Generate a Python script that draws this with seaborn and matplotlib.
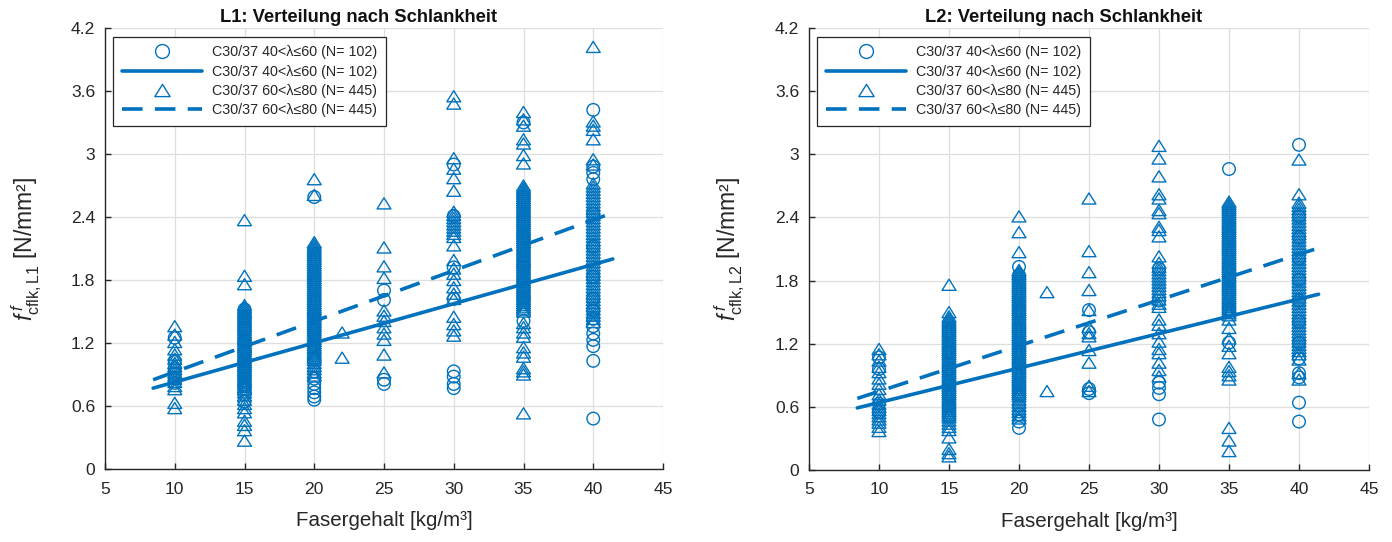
import numpy as np
import pandas as pd
import matplotlib
matplotlib.use("Agg")
import matplotlib.pyplot as plt
import seaborn as sns
from matplotlib.lines import Line2D
from matplotlib.path import Path
from matplotlib import font_manager

# ---------------- data ----------------
FASER = [10, 15, 20, 22, 25, 30, 35, 40]

# L1: circles = C30/37 40<lambda<=60, triangles = C30/37 60<lambda<=80
L1_KREIS = [
    [1.25, 1.02, 0.96, 0.91, 0.86, 0.82],
    [1.52, 1.44, 1.33, 1.21, 1.12, 1.03, 0.94, 0.87, 0.79, 0.71, 0.64],
    [2.59, 1.47, 1.32, 1.18, 1.04, 0.93, 0.86, 0.81, 0.77, 0.73, 0.69, 0.66],
    [],
    [1.70, 1.61, 0.85, 0.81],
    [2.90, 2.41, 1.92, 1.62, 0.93, 0.88, 0.81, 0.77],
    [3.30, 2.22, 1.92, 1.63, 1.41],
    [3.42, 2.88, 2.82, 2.76, 2.43, 2.12, 1.83, 1.62, 1.51, 1.43, 1.36, 1.29, 1.23, 1.17, 1.03, 0.48],
]
L1_DREIECK = [
    [1.36, 1.28, 1.21, 1.14, 1.09, 1.05, 1.01, 0.98, 0.95, 0.92, 0.89, 0.86, 0.83, 0.79, 0.76, 0.63, 0.58],
    [2.37, 1.84, 1.76, 1.56, 1.54, 1.52, 1.50, 1.48, 1.46, 1.44, 1.42, 1.40, 1.38, 1.36, 1.34, 1.32, 1.30,
     1.28, 1.26, 1.24, 1.22, 1.20, 1.18, 1.16, 1.14, 1.12, 1.10, 1.08, 1.06, 1.04, 1.02, 1.00, 0.98, 0.96,
     0.94, 0.92, 0.90, 0.88, 0.86, 0.84, 0.82, 0.80, 0.78, 0.76, 0.73, 0.70, 0.66, 0.62, 0.58, 0.54, 0.46,
     0.42, 0.37, 0.27],
    [2.76, 2.61, 2.16, 2.14, 2.12, 2.10, 2.08, 2.06, 2.04, 2.02, 2.00, 1.98, 1.96, 1.94, 1.92, 1.90, 1.88,
     1.86, 1.84, 1.82, 1.80, 1.78, 1.76, 1.74, 1.72, 1.70, 1.68, 1.66, 1.64, 1.62, 1.60, 1.58, 1.56, 1.54,
     1.52, 1.50, 1.48, 1.46, 1.44, 1.42, 1.40, 1.38, 1.36, 1.34, 1.32, 1.30, 1.28, 1.26, 1.24, 1.22, 1.20,
     1.18, 1.16, 1.14, 1.12, 1.10, 1.08, 1.06, 1.04, 1.01, 0.98, 0.95, 0.92, 0.89],
    [1.30, 1.06],
    [2.53, 2.11, 1.93, 1.82, 1.51, 1.46, 1.41, 1.35, 1.29, 1.23, 1.09, 0.92],
    [3.55, 3.48, 2.96, 2.86, 2.77, 2.65, 2.45, 2.42, 2.39, 2.36, 2.33, 2.30, 2.27, 2.24, 2.21, 2.13, 1.99,
     1.91, 1.86, 1.80, 1.73, 1.67, 1.62, 1.45, 1.38, 1.32, 1.27],
    [3.40, 3.33, 3.27, 3.14, 3.10, 2.99, 2.91, 2.70, 2.68, 2.66, 2.64, 2.62, 2.60, 2.58, 2.56, 2.54, 2.52,
     2.50, 2.48, 2.46, 2.44, 2.42, 2.40, 2.38, 2.36, 2.34, 2.32, 2.30, 2.28, 2.26, 2.24, 2.22, 2.20, 2.18,
     2.16, 2.14, 2.12, 2.10, 2.08, 2.06, 2.04, 2.02, 2.00, 1.98, 1.96, 1.94, 1.92, 1.90, 1.88, 1.86, 1.84,
     1.82, 1.80, 1.78, 1.76, 1.74, 1.72, 1.70, 1.68, 1.66, 1.64, 1.62, 1.60, 1.58, 1.56, 1.54, 1.52, 1.50,
     1.39, 1.35, 1.30, 1.26, 1.16, 1.11, 1.07, 0.96, 0.93, 0.90, 0.53],
    [4.02, 3.31, 3.27, 3.23, 3.14, 2.95, 2.90, 2.72, 2.69, 2.66, 2.63, 2.60, 2.57, 2.54, 2.51, 2.48, 2.45,
     2.42, 2.39, 2.36, 2.33, 2.30, 2.27, 2.24, 2.21, 2.18, 2.15, 2.12, 2.09, 2.06, 2.03, 2.00, 1.97, 1.94,
     1.91, 1.88, 1.85, 1.82, 1.79, 1.76, 1.73, 1.70, 1.67, 1.64, 1.61, 1.58, 1.55, 1.52, 1.49, 1.46, 1.43,
     1.40],
]

# L2
L2_KREIS = [
    [1.07, 0.96, 0.63, 0.55],
    [1.31, 1.12, 0.96, 0.81, 0.71, 0.61, 0.51],
    [1.93, 1.85, 1.51, 1.21, 1.01, 0.81, 0.71, 0.61, 0.53, 0.46, 0.40],
    [],
    [1.52, 1.31, 0.77, 0.73],
    [1.91, 1.61, 0.83, 0.78, 0.72, 0.48],
    [2.86, 2.21, 1.81, 1.52, 1.21],
    [3.09, 2.41, 2.21, 2.01, 1.81, 1.61, 1.41, 1.21, 1.06, 0.92, 0.88, 0.64, 0.46],
]
L2_DREIECK = [
    [1.15, 1.10, 1.04, 0.98, 0.93, 0.87, 0.82, 0.77, 0.72, 0.67, 0.63, 0.60, 0.57, 0.54, 0.51, 0.48, 0.45,
     0.41, 0.37],
    [1.76, 1.50, 1.46, 1.44, 1.42, 1.40, 1.38, 1.36, 1.34, 1.32, 1.30, 1.28, 1.26, 1.24, 1.22, 1.20, 1.18,
     1.16, 1.14, 1.12, 1.10, 1.08, 1.06, 1.04, 1.02, 1.00, 0.98, 0.96, 0.94, 0.92, 0.90, 0.88, 0.86, 0.84,
     0.82, 0.80, 0.78, 0.76, 0.74, 0.72, 0.70, 0.68, 0.66, 0.64, 0.62, 0.60, 0.58, 0.56, 0.54, 0.52, 0.50,
     0.47, 0.44, 0.41, 0.38, 0.31, 0.20, 0.16, 0.13],
    [2.41, 2.26, 2.07, 1.90, 1.88, 1.86, 1.84, 1.82, 1.80, 1.78, 1.76, 1.74, 1.72, 1.70, 1.68, 1.66, 1.64,
     1.62, 1.60, 1.58, 1.56, 1.54, 1.52, 1.50, 1.48, 1.46, 1.44, 1.42, 1.40, 1.38, 1.36, 1.34, 1.32, 1.30,
     1.28, 1.26, 1.24, 1.22, 1.20, 1.18, 1.16, 1.14, 1.12, 1.10, 1.08, 1.06, 1.04, 1.02, 1.00, 0.98, 0.96,
     0.94, 0.92, 0.90, 0.88, 0.86, 0.84, 0.82, 0.80, 0.78, 0.76, 0.74, 0.72, 0.70, 0.67, 0.64, 0.61, 0.58,
     0.55, 0.52, 0.49],
    [1.69, 0.75],
    [2.58, 2.08, 1.88, 1.71, 1.52, 1.36, 1.30, 1.27, 1.14, 1.02, 0.80, 0.75],
    [3.08, 2.96, 2.79, 2.62, 2.58, 2.47, 2.44, 2.31, 2.28, 2.22, 2.03, 1.97, 1.93, 1.90, 1.87, 1.84, 1.81,
     1.78, 1.75, 1.72, 1.69, 1.66, 1.62, 1.58, 1.55, 1.43, 1.38, 1.30, 1.22, 1.15, 1.11, 1.02, 0.95, 0.89],
    [2.55, 2.53, 2.51, 2.49, 2.47, 2.45, 2.43, 2.41, 2.39, 2.37, 2.35, 2.33, 2.31, 2.29, 2.27, 2.25, 2.23,
     2.21, 2.19, 2.17, 2.15, 2.13, 2.11, 2.09, 2.07, 2.05, 2.03, 2.01, 1.99, 1.97, 1.95, 1.93, 1.91, 1.89,
     1.87, 1.85, 1.83, 1.81, 1.79, 1.77, 1.75, 1.73, 1.71, 1.69, 1.67, 1.65, 1.63, 1.61, 1.59, 1.57, 1.55,
     1.53, 1.51, 1.49, 1.47, 1.43, 1.35, 1.25, 1.18, 1.11, 0.98, 0.94, 0.90, 0.86, 0.40, 0.28, 0.18],
    [2.95, 2.62, 2.54, 2.51, 2.48, 2.45, 2.42, 2.39, 2.36, 2.33, 2.30, 2.27, 2.24, 2.21, 2.18, 2.15, 2.12,
     2.09, 2.06, 2.03, 2.00, 1.97, 1.94, 1.91, 1.88, 1.85, 1.82, 1.79, 1.76, 1.73, 1.70, 1.67, 1.64, 1.61,
     1.58, 1.55, 1.52, 1.49, 1.46, 1.43, 1.40, 1.37, 1.34, 1.31, 1.28, 1.25, 1.22, 1.19, 1.16, 1.13, 1.10,
     1.05, 0.92, 0.86],
]

# regression lines (end points)
FIT_X = [8.45, 41.4]
L1_FIT_KREIS = [0.77, 2.00]
L1_FIT_DREIECK = [0.85, 2.44]
L2_FIT_KREIS = [0.59, 1.67]
L2_FIT_DREIECK = [0.68, 2.11]

TITEL = ["L1: Verteilung nach Schlankheit", "L2: Verteilung nach Schlankheit"]
YLABEL = [r"$f^{\,f}_{\mathrm{cflk,L1}}$ [N/mm²]", r"$f^{\,f}_{\mathrm{cflk,L2}}$ [N/mm²]"]
XLABEL = "Fasergehalt [kg/m³]"
LEG_KREIS = "C30/37 40<λ≤60 (N= 102)"
LEG_DREIECK = "C30/37 60<λ≤80 (N= 445)"
XTICKS = [5, 10, 15, 20, 25, 30, 35, 40, 45]
XTICKLABELS = ["5", "10", "15", "20", "25", "30", "35", "40", "45"]
YTICKS = [0, 0.6, 1.2, 1.8, 2.4, 3.0, 3.6, 4.2]
YTICKLABELS = ["0", "0.6", "1.2", "1.8", "2.4", "3", "3.6", "4.2"]

# ---------------- styling ----------------
sns.set_theme(style="white")
names = {f.name for f in font_manager.fontManager.ttflist}
FONT = "Liberation Sans" if "Liberation Sans" in names else "DejaVu Sans"
NARROW = "Liberation Sans Narrow" if "Liberation Sans Narrow" in names else None
plt.rcParams["font.family"] = [FONT, "DejaVu Sans"]
plt.rcParams["mathtext.fontset"] = "custom"
plt.rcParams["mathtext.rm"] = FONT
plt.rcParams["mathtext.it"] = FONT + ":italic"
plt.rcParams["mathtext.bf"] = FONT + ":bold"

if NARROW:
    TICK_F = dict(family=[NARROW, "DejaVu Sans"], size=15)
    XLAB_F = dict(family=[NARROW, "DejaVu Sans"], size=18)
    TITLE_F = dict(family=[NARROW, "DejaVu Sans"], size=15.5, weight="bold")
else:
    TICK_F = dict(family=[FONT, "DejaVu Sans"], size=12.6)
    XLAB_F = dict(family=[FONT, "DejaVu Sans"], size=14.8)
    TITLE_F = dict(family=[FONT, "DejaVu Sans"], size=13.2, weight="bold")

C = "#0072BD"
AX = "#262626"
DASH = (0, (5.7, 3.4))
TRI = Path([(0, 0.8), (-1, -0.8), (1, -0.8), (0, 0.8)],
           [Path.MOVETO, Path.LINETO, Path.LINETO, Path.CLOSEPOLY])


def long_df(kreis, dreieck):
    rows = []
    for x, ys in zip(FASER, kreis):
        rows += [(x, y, "kreis") for y in ys]
    for x, ys in zip(FASER, dreieck):
        rows += [(x, y, "dreieck") for y in ys]
    return pd.DataFrame(rows, columns=["Fasergehalt", "f", "gruppe"])


fig = plt.figure(figsize=(13.92, 5.42), dpi=100)
axes = [fig.add_axes([105 / 1392, 73 / 542, 558 / 1392, 441 / 542]),
        fig.add_axes([809 / 1392, 72 / 542, 560 / 1392, 442 / 542])]

panels = [(L1_KREIS, L1_DREIECK, L1_FIT_KREIS, L1_FIT_DREIECK),
          (L2_KREIS, L2_DREIECK, L2_FIT_KREIS, L2_FIT_DREIECK)]

for i, (ax, (kr, dr, fk, fd)) in enumerate(zip(axes, panels)):
    df = long_df(kr, dr)
    for grp, mk, s in [("kreis", "o", 82), ("dreieck", TRI, 100)]:
        sub = df[df["gruppe"] == grp]
        sns.scatterplot(data=sub, x="Fasergehalt", y="f", marker=mk, s=s, color=C,
                        linewidth=1.0, legend=False, ax=ax, zorder=3)
        coll = ax.collections[-1]
        coll.set_facecolor("none")
        coll.set_edgecolor(C)
        coll.set_linewidth(1.0)
    sns.lineplot(x=FIT_X, y=fk, color=C, lw=2.6, ax=ax, legend=False, zorder=4)
    sns.lineplot(x=FIT_X, y=fd, color=C, lw=2.6, ax=ax, legend=False, zorder=4)
    ax.lines[-1].set_linestyle(DASH)

    ax.set_xlim(5, 45)
    ax.set_ylim(0, 4.2)
    ax.set_xticks(XTICKS)
    ax.set_xticklabels(XTICKLABELS, fontdict=None, **TICK_F)
    ax.set_yticks(YTICKS)
    ax.set_yticklabels(YTICKLABELS, **TICK_F)
    ax.grid(True, color="#dedede", lw=0.9, zorder=0)
    ax.set_axisbelow(True)
    for sp in ["top", "right"]:
        ax.spines[sp].set_visible(False)
    for sp in ["left", "bottom"]:
        ax.spines[sp].set_color(AX)
        ax.spines[sp].set_linewidth(1.0)
    ax.tick_params(axis="x", direction="in", length=4, width=1, color=AX, labelcolor=AX,
                   pad=9, bottom=True)
    ax.tick_params(axis="y", direction="in", length=4, width=1, color=AX, labelcolor=AX,
                   pad=7, left=True)

    ax.set_title(TITEL[i], color="#111111", pad=4, x=0.455, **TITLE_F)
    ax.set_xlabel(XLABEL, color=AX, **XLAB_F)
    ax.xaxis.set_label_coords(0.5, -0.095)
    ax.set_ylabel(YLABEL[i], fontsize=16.5, color=AX)
    ax.yaxis.set_label_coords(-0.11, 0.5)

    handles = [
        Line2D([], [], ls="none", marker="o", mfc="none", mec=C, ms=10, mew=1),
        Line2D([], [], color=C, lw=2.6),
        Line2D([], [], ls="none", marker=TRI, mfc="none", mec=C, ms=11, mew=1),
        Line2D([], [], color=C, lw=2.6, ls=DASH),
    ]
    labels = [LEG_KREIS, LEG_KREIS, LEG_DREIECK, LEG_DREIECK]
    leg = ax.legend(handles, labels, loc="upper left", bbox_to_anchor=(0.0143, 0.980),
                    borderaxespad=0, fontsize=10.3, handlelength=5.6, handletextpad=0.7,
                    labelspacing=0.37, borderpad=0.6, fancybox=False, framealpha=1,
                    edgecolor=AX, numpoints=1)
    leg.get_frame().set_linewidth(0.9)
    leg.set_zorder(10)

fig.savefig("out.png", dpi=100)
